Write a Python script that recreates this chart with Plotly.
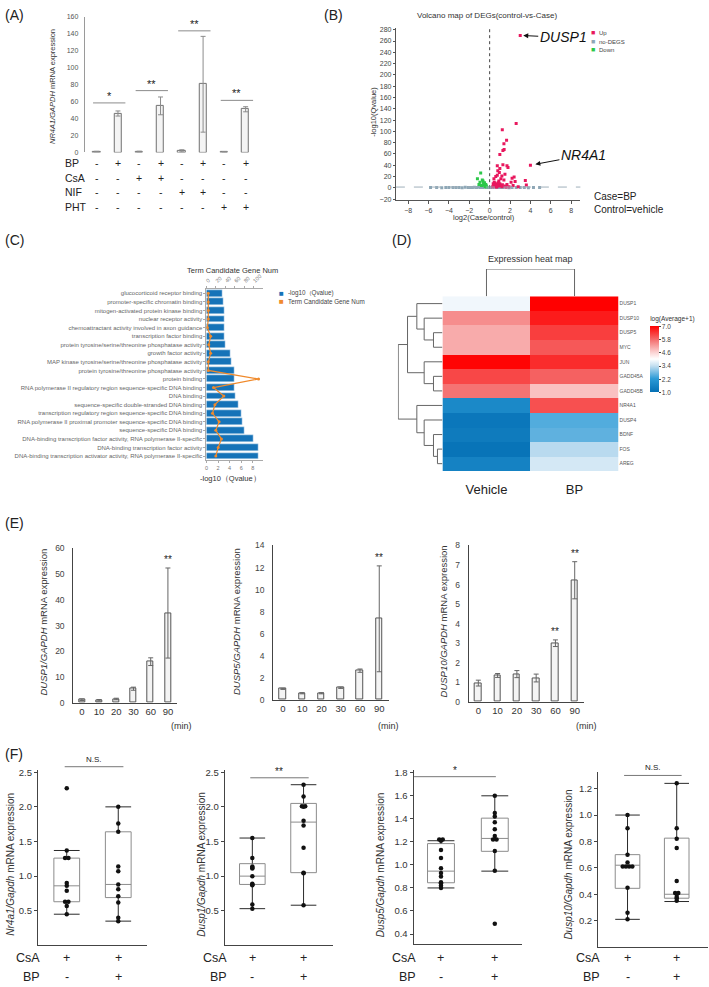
import plotly.graph_objects as go

W, H = 709, 987
FONT = "Arial, Liberation Sans, Helvetica, sans-serif"

# ---------------- (A) NR4A1 bars ----------------
A_MEAN = [1.0, 46.0, 1.0, 55.0, 2.0, 80.5, 0.8, 51.0]
A_ERR = [0.4, 3.0, 0.5, 10.5, 1.2, 56.5, 0.3, 3.0]
A_PAIRS = [(1, 2), (3, 4), (5, 6), (7, 8)]
A_SIG_Y = [58.5, 73.0, 143.5, 61.5]
A_SIG = ["*", "**", "**", "**"]
A_ROWS = ["BP", "CsA", "NIF", "PHT"]
A_SIGNS = [
    ["-", "+", "-", "+", "-", "+", "-", "+"],
    ["-", "-", "+", "+", "-", "-", "-", "-"],
    ["-", "-", "-", "-", "+", "+", "-", "-"],
    ["-", "-", "-", "-", "-", "-", "+", "+"],
]

# ---------------- (B) volcano ----------------
UP_X = [3.0, 2.6, 1.24, 1.66, 1.4, 1.42, 1.3, 1.0, 1.3, 1.7,
        1.8, 0.75, 1.0, 0.95, 0.75, 1.2, 1.4, 2.2, 2.4, 2.5,
        3.5, 3.6, 2.1, 1.7, 0.42, 0.6, 0.5, 4.0, 0.3, 0.4,
        0.5, 0.6, 0.7, 0.8, 0.9, 1.0, 1.1, 0.55, 0.65, 0.85,
        1.2, 1.5, 1.9, 2.3, 2.8, 0.35, 0.45, 0.9, 1.1, 0.8,
        1.5, 0.7, 1.25, 1.6]
UP_Y = [270, 114, 103, 84, 78, 68, 66, 59, 41, 39,
        36, 39, 34, 27, 22, 21, 14, 17, 19, 11,
        13, 5, 10, 6, 16, 20, 5, 40, 2, 4,
        3, 6, 2, 5, 3, 7, 4, 8, 1.5, 9,
        2, 3, 2, 4, 1.8, 7, 10, 12, 16, 30,
        24, 3.5, 5.5, 1.6]
DOWN_X = [-0.88, -1.2, -0.72, -0.95, -0.6, -0.55, -0.45, -0.39, -0.3, -0.5,
          -0.65, -0.8, -1.05, -0.42, -0.35]
DOWN_Y = [26, 16, 14, 10, 8, 5, 3, 6, 2, 9, 12, 4, 6, 1.8, 4.5]
NODEG_X = [-5.8, -5.2, -4.7, -4.3, -4.0, -3.6, -3.3, -3.0, -2.7, -2.4,
           -2.1, -1.9, -1.7, -1.5, -1.3, -1.1, -0.9, -0.7, -0.5, -0.3,
           -0.1, 0.1, 0.3, 0.5, 0.7, 0.9, 1.1, 1.3, 1.6, 1.9,
           2.2, 2.6, 3.0, 3.4, 3.8, 4.3, 4.9]
NODEG_Y = [0.3, 0.5, 0.2, 0.6, 0.4, 0.3, 0.7, 0.5, 0.2, 0.8,
           0.4, 0.6, 0.3, 0.9, 0.5, 1.0, 0.7, 0.4, 1.1, 0.8,
           0.6, 0.5, 0.9, 1.0, 0.4, 0.7, 0.3, 0.6, 0.8, 0.2,
           0.5, 0.4, 0.3, 0.6, 0.2, 0.4, 0.3]
Q_CUTOFF = 1.3

# ---------------- (C) GO terms ----------------
GO_TERMS = [
    "glucocorticoid receptor binding",
    "promoter-specific chromatin binding",
    "mitogen-activated protein kinase binding",
    "nuclear receptor activity",
    "chemoattractant activity involved in axon guidance",
    "transcription factor binding",
    "protein tyrosine/serine/threonine phosphatase activity",
    "growth factor activity",
    "MAP kinase tyrosine/serine/threonine phosphatase activity",
    "protein tyrosine/threonine phosphatase activity",
    "protein binding",
    "RNA polymerase II regulatory region sequence-specific DNA binding",
    "DNA binding",
    "sequence-specific double-stranded DNA binding",
    "transcription regulatory region sequence-specific DNA binding",
    "RNA polymerase II proximal promoter sequence-specific DNA binding",
    "sequence-specific DNA binding",
    "DNA-binding transcription factor activity, RNA polymerase II-specific",
    "DNA-binding transcription factor activity",
    "DNA-binding transcription activator activity, RNA polymerase II-specific",
]
GO_QVAL = [2.7, 2.9, 3.05, 3.05, 3.1, 3.1, 3.3, 4.2, 4.3, 4.8,
           4.8, 4.85, 5.05, 5.5, 6.0, 6.25, 6.55, 8.15, 9.0, 9.05]
GO_GENES = [4, 4, 4, 4, 2, 9, 5, 9, 4, 4,
            111, 15, 37, 18, 13, 27, 20, 32, 25, 20]

# ---------------- (D) heat map ----------------
GENES = ["DUSP1", "DUSP10", "DUSP5", "MYC", "JUN", "GADD45A", "GADD45B",
         "NR4A1", "DUSP4", "BDNF", "FOS", "AREG"]
HEAT_VEHICLE = [3.85, 5.4, 5.05, 5.05, 6.95, 6.2, 5.7, 1.7, 1.2, 1.3, 1.1, 1.5]
HEAT_BP = [7.0, 6.7, 6.3, 6.0, 6.5, 5.9, 4.8, 6.1, 2.5, 2.6, 3.3, 3.55]
HEAT_GROUPS = ["Vehicle", "BP"]
# (left, right, height) merges, new node ids start after the leaves
ROW_MERGES = [(2, 3, 27), (1, 12, 55), (0, 13, 77), (5, 6, 27), (4, 15, 55),
              (14, 16, 105), (10, 11, 15), (9, 18, 27), (8, 19, 55),
              (7, 20, 77), (17, 21, 133)]
COL_MERGES = [(0, 1, 1.0)]
CB_TICKS = [1.0, 2.2, 3.4, 4.6, 5.8, 7.0]

# ---------------- (E) time course ----------------
E_TIMES = ["0", "10", "20", "30", "60", "90"]
DUSP1_MEAN = [1.2, 1.0, 1.5, 5.5, 16.0, 34.9]
DUSP1_ERR = [0.3, 0.3, 0.3, 0.6, 1.5, 17.5]
DUSP5_MEAN = [1.0, 0.6, 0.6, 1.1, 2.65, 7.35]
DUSP5_ERR = [0.05, 0.05, 0.05, 0.06, 0.15, 4.8]
DUSP10_MEAN = [0.96, 1.35, 1.42, 1.22, 3.0, 6.22]
DUSP10_ERR = [0.15, 0.1, 0.18, 0.2, 0.17, 0.95]
E_SIG_IDX = [[5], [5], [4, 5]]

# ---------------- (F) CsA boxes ----------------
F_GENES = ["Nr4a1", "Dusp1", "Dusp5", "Dusp10"]
NR4A1_CSA = [2.27, 1.37, 1.26, 1.26, 0.90, 0.86, 0.79, 0.63, 0.63, 0.57, 0.45]
NR4A1_CSA_BP = [2.0, 1.76, 1.64, 1.14, 1.07, 0.88, 0.81, 0.71, 0.62, 0.40, 0.35]
DUSP1_CSA = [1.55, 1.26, 1.14, 1.12, 1.11, 1.0, 0.89, 0.88, 0.87, 0.59, 0.53]
DUSP1_CSA_BP = [2.32, 2.15, 2.01, 2.01, 2.0, 1.80, 1.73, 1.41, 1.05, 1.04, 0.58]
DUSP5_CSA = [1.22, 1.22, 1.21, 1.13, 1.06, 0.97, 0.93, 0.90, 0.85, 0.84, 0.82, 0.80]
DUSP5_CSA_BP = [1.60, 1.45, 1.42, 1.37, 1.31, 1.25, 1.22, 1.22, 1.12, 0.95, 0.49]
DUSP10_CSA = [1.0, 0.90, 0.70, 0.64, 0.61, 0.61, 0.61, 0.61, 0.45, 0.26, 0.21]
DUSP10_CSA_BP = [1.24, 0.90, 0.82, 0.75, 0.50, 0.41, 0.41, 0.40, 0.38, 0.37, 0.35]
# box stats per group: q1, median, q3, lower whisker, upper whisker
F_STATS = [
    [(0.63, 0.86, 1.26, 0.45, 1.37), (0.69, 0.88, 1.64, 0.35, 2.0)],
    [(0.88, 1.0, 1.18, 0.53, 1.55), (1.05, 1.78, 2.05, 0.58, 2.32)],
    [(0.845, 0.946, 1.185, 0.80, 1.21), (1.118, 1.23, 1.406, 0.946, 1.60)],
    [(0.445, 0.62, 0.70, 0.21, 1.0), (0.37, 0.40, 0.825, 0.345, 1.24)],
]
F_SIG = ["N.S.", "**", "*", "N.S."]
F_SIG_Y = [2.58, 2.42, 1.766, 1.30]
F_TICKS = [[0.5, 1.0, 1.5, 2.0, 2.5], [0.5, 1.0, 1.5, 2.0, 2.5],
           [0.4, 0.6, 0.8, 1.0, 1.2, 1.4, 1.6, 1.8], [0.2, 0.4, 0.6, 0.8, 1.0, 1.2]]
F_ROWS = ["CsA", "BP"]
F_SIGNS = [["+", "+"], ["-", "+"]]


def px(x):
    return x / W


def py(y):
    return 1 - y / H


def xdom(a, b):
    return [a / W, b / W]


def ydom(top, bottom):
    return [1 - bottom / H, 1 - top / H]


def axis(**kw):
    d = dict(showgrid=False, zeroline=False)
    d.update(kw)
    return d


def dendro(n_leaves, merges):
    pos = {i: float(i) for i in range(n_leaves)}
    hgt = {i: 0.0 for i in range(n_leaves)}
    hs, ps = [], []
    for k, (a, b, h) in enumerate(merges):
        hs += [hgt[a], h, h, hgt[b], None]
        ps += [pos[a], pos[a], pos[b], pos[b], None]
        pos[n_leaves + k] = (pos[a] + pos[b]) / 2
        hgt[n_leaves + k] = h
    return hs, ps


def spread(vals, center, step=0.065):
    counts = {v: vals.count(v) for v in vals}
    seen = {}
    xs = []
    for v in vals:
        k = seen.get(v, 0)
        seen[v] = k + 1
        xs.append(center + (k - (counts[v] - 1) / 2) * step)
    return xs


fig = go.Figure()
layout = {}
ann = []
shapes = []


def text(x, y, t, size, xref="paper", yref="paper", **kw):
    d = dict(x=x, y=y, xref=xref, yref=yref, text=t, showarrow=False,
             xanchor="center", yanchor="middle", borderpad=0,
             font=dict(size=size, color=kw.pop("color", "#222")))
    d.update(kw)
    ann.append(d)


# ---------- (A)
A_X = list(range(1, len(A_MEAN) + 1))
fig.add_trace(go.Bar(
    x=A_X, y=A_MEAN, width=0.34, xaxis="x", yaxis="y",
    marker=dict(color="#f4f4f4", line=dict(color="#707070", width=1)),
    error_y=dict(type="data", array=A_ERR, color="#8c8c8c", thickness=1, width=2.5),
))
layout["xaxis"] = axis(domain=xdom(83, 255), anchor="y", range=[0.44, 8.5],
                       showticklabels=False, ticks="")
layout["yaxis"] = axis(domain=ydom(12, 149), anchor="x", range=[0, 160], dtick=20,
                       showline=True, linecolor="#9a9a9a", ticks="",
                       tickfont=dict(size=7, color="#555"), ticklabelstandoff=4)
for (a, b), yv, s in zip(A_PAIRS, A_SIG_Y, A_SIG):
    shapes.append(dict(type="line", xref="x", yref="y", x0=a - 0.17, x1=b + 0.35,
                       y0=yv, y1=yv, line=dict(color="#8c8c8c", width=1)))
    text((a + b) / 2 + 0.08, yv, s, 11, xref="x", yref="y", yanchor="bottom")
A_ROW_Y = [160, 174.5, 189, 204]
for r, lab in enumerate(A_ROWS):
    text(px(62), py(A_ROW_Y[r]), lab, 10.5, xanchor="left")
    for c, s in enumerate(A_SIGNS[r]):
        text(A_X[c], py(A_ROW_Y[r]), s, 10.5, xref="x")
text(px(50), py(82), "<i>NR4A1/GAPDH</i> mRNA expression", 7.5, textangle=-90,
     color="#333")

# ---------- (B)
for xs, ys, col in [(NODEG_X, NODEG_Y, "#8ea7b6"), (UP_X, UP_Y, "#e8185e"),
                    (DOWN_X, DOWN_Y, "#2cc84a")]:
    fig.add_trace(go.Scatter(x=xs, y=ys, mode="markers", xaxis="x2", yaxis="y2",
                             marker=dict(size=3, color=col, symbol="square")))
layout["xaxis2"] = axis(domain=xdom(395, 580), anchor="y2", range=[-9.2, 8.9],
                        tickvals=list(range(-8, 9, 2)), showline=True, linecolor="#555",
                        ticks="outside", ticklen=3, tickcolor="#555",
                        tickfont=dict(size=7, color="#444"))
layout["yaxis2"] = axis(domain=ydom(23.3, 197.2), anchor="x2", range=[-22, 283],
                        tickvals=list(range(-20, 281, 20)), showline=True, linecolor="#555",
                        ticks="outside", ticklen=2, tickcolor="#555",
                        tickfont=dict(size=7, color="#444"))
shapes.append(dict(type="line", xref="x2", yref="y2 domain", x0=0, x1=0, y0=0, y1=1,
                   line=dict(color="#444", width=1, dash="dot")))
shapes.append(dict(type="line", xref="x2 domain", yref="y2", x0=0, x1=1,
                   y0=Q_CUTOFF, y1=Q_CUTOFF, line=dict(color="#9fb0bb", width=1, dash="dash")))
text(px(486), py(11), "Volcano map of DEGs(control-vs-Case)", 8, color="#333")
text(px(373), py(108), "-log10(Qvalue)", 7.5, textangle=-90, color="#333")
text(px(483), py(215), "log2(Case/control)", 7.5, color="#333")
ann.append(dict(x=UP_X[0], y=UP_Y[0], xref="x2", yref="y2", text="<i>DUSP1</i>",
                showarrow=True, arrowhead=2, arrowsize=1, arrowwidth=1, arrowcolor="#111",
                ax=43, ay=2, standoff=3, font=dict(size=14, color="#111")))
nr_idx = UP_X.index(4.0)
ann.append(dict(x=UP_X[nr_idx], y=UP_Y[nr_idx], xref="x2", yref="y2", text="<i>NR4A1</i>",
                showarrow=True, arrowhead=2, arrowsize=1, arrowwidth=1, arrowcolor="#111",
                ax=53, ay=-10, standoff=5, font=dict(size=14, color="#111")))
for i, (lab, col) in enumerate([("Up", "#e8185e"), ("no-DEGS", "#8ea7b6"),
                                ("Down", "#2cc84a")]):
    text(px(590), py(28 + i * 8.5), "■", 7, xanchor="left", color=col)
    text(px(598), py(28.5 + i * 8.5), lab, 6, xanchor="left", color="#444")
text(px(593), py(193), "Case=BP", 10, xanchor="left")
text(px(593), py(207), "Control=vehicle", 10, xanchor="left")

# ---------- (C)
fig.add_trace(go.Bar(x=GO_QVAL, y=GO_TERMS, orientation="h", width=0.8,
                     marker=dict(color="#1573b8"), xaxis="x3", yaxis="y3"))
fig.add_trace(go.Scatter(x=GO_GENES, y=GO_TERMS, mode="lines+markers", xaxis="x4", yaxis="y3",
                         line=dict(color="#f08a2c", width=1.2),
                         marker=dict(size=3, color="#f08a2c")))
layout["xaxis3"] = axis(domain=xdom(205, 262), anchor="y3", range=[0, 9.8],
                        tickvals=[0, 2, 4, 6, 8], showline=True, linecolor="#aaa",
                        ticks="outside", ticklen=2, tickcolor="#aaa",
                        tickfont=dict(size=5.5, color="#777"))
layout["xaxis4"] = axis(overlaying="x3", anchor="y3", side="top", range=[0, 121],
                        tickvals=[0, 20, 40, 60, 80, 100], tickangle=-45, showline=True,
                        linecolor="#aaa", ticks="outside", ticklen=2, tickcolor="#aaa",
                        tickfont=dict(size=5.5, color="#777"))
layout["yaxis3"] = axis(domain=ydom(287, 460), anchor="x3", type="category",
                        range=[len(GO_TERMS) - 0.5, -0.5], showline=True, linecolor="#aaa",
                        ticks="outside", ticklen=2, tickcolor="#aaa",
                        tickfont=dict(size=6, color="#666"))
text(px(231), py(268), "Term Candidate Gene Num", 7.5, color="#333")
text(px(229), py(478), "-log10（Qvalue）", 7.5, color="#333")
text(px(277), py(291), "■", 8, xanchor="left", color="#1573b8")
text(px(286), py(291), "-log10（Qvalue)", 6.3, xanchor="left", color="#444")
text(px(277), py(299.5), "■", 8, xanchor="left", color="#f08a2c")
text(px(286), py(299.5), "Term Candidate Gene Num", 6.3, xanchor="left", color="#444")

# ---------- (D)
heat_z = [[v, b] for v, b in zip(HEAT_VEHICLE, HEAT_BP)]
fig.add_trace(go.Heatmap(
    z=heat_z, x=[0, 1], y=list(range(len(GENES))), zmin=1, zmax=7, xaxis="x5", yaxis="y5",
    colorscale=[[0, "#0570b5"], [0.2, "#2b9ad6"], [0.4, "#c6e0f1"], [0.5, "#ffffff"],
                [0.6, "#fbd2d2"], [0.8, "#f46a6a"], [1, "#ff0000"]],
    colorbar=dict(x=px(650), xanchor="left", xpad=0, ypad=0, y=py(351.5), yanchor="middle",
                  len=79, lenmode="pixels", thickness=9, thicknessmode="pixels",
                  outlinewidth=0, tickvals=CB_TICKS, ticktext=[f"{t:.1f}" for t in CB_TICKS],
                  ticks="outside", ticklen=2, tickfont=dict(size=6.5, color="#444"),
                  title=dict(text="log(Average+1)", side="top",
                             font=dict(size=6.5, color="#333"))),
))
rh, rp = dendro(len(GENES), ROW_MERGES)
fig.add_trace(go.Scatter(x=rh, y=rp, mode="lines", xaxis="x6", yaxis="y6",
                         line=dict(color="#666", width=1)))
ch, cp = dendro(len(HEAT_GROUPS), COL_MERGES)
fig.add_trace(go.Scatter(x=cp, y=ch, mode="lines", xaxis="x7", yaxis="y7",
                         line=dict(color="#666", width=1)))
layout["xaxis5"] = axis(domain=xdom(441.7, 618.3), anchor="y5", range=[-0.5, 1.5],
                        tickvals=[0, 1], ticktext=HEAT_GROUPS, ticks="outside", ticklen=6,
                        tickcolor="rgba(0,0,0,0)", tickfont=dict(size=13, color="#222"))
layout["yaxis5"] = axis(domain=ydom(294.3, 470.7), anchor="x5", range=[len(GENES) - 0.5, -0.5],
                        side="right", tickvals=list(range(len(GENES))), ticktext=GENES,
                        ticks="", tickfont=dict(size=5, color="#555"))
layout["xaxis6"] = axis(domain=xdom(397, 441.7), anchor="y6", range=[134, 0], visible=False)
layout["yaxis6"] = axis(domain=ydom(294.3, 470.7), anchor="x6", range=[len(GENES) - 0.5, -0.5],
                        visible=False)
layout["xaxis7"] = axis(domain=xdom(441.7, 618.3), anchor="y7", range=[-0.5, 1.5], visible=False)
layout["yaxis7"] = axis(domain=ydom(266.7, 294.3), anchor="x7", range=[0, 1], visible=False)
text(px(530), py(257), "Expression heat map", 9, color="#333")

# ---------- (E)
E_SERIES = [("DUSP1", DUSP1_MEAN, DUSP1_ERR), ("DUSP5", DUSP5_MEAN, DUSP5_ERR),
            ("DUSP10", DUSP10_MEAN, DUSP10_ERR)]
E_XDOM = [(71.5, 175), (272, 388), (468, 584)]
E_YDOM = [(549, 705), (546, 702), (546, 704)]
E_YMAX = [60, 14, 8]
E_DTICK = [10, 2, 1]
E_TITLE_X = [42, 235, 443]
E_MIN_X = [180, 388, 586]
for i, (gene, mean, err) in enumerate(E_SERIES):
    xa, ya = f"x{8 + i}", f"y{8 + i}"
    fig.add_trace(go.Bar(
        x=E_TIMES, y=mean, width=0.34, xaxis=xa, yaxis=ya,
        marker=dict(color="#f4f4f4", line=dict(color="#555", width=1)),
        error_y=dict(type="data", array=err, color="#666", thickness=1, width=2.5),
    ))
    layout[f"xaxis{8 + i}"] = axis(domain=xdom(*E_XDOM[i]), anchor=ya, range=[-0.5, 5.5],
                                   showline=True, linecolor="#444", ticks="",
                                   tickfont=dict(size=9.5, color="#333"))
    layout[f"yaxis{8 + i}"] = axis(domain=ydom(*E_YDOM[i]), anchor=xa, range=[0, E_YMAX[i]],
                                   dtick=E_DTICK[i], showline=True, linecolor="#444",
                                   ticks="", ticklabelstandoff=6,
                                   tickfont=dict(size=8.5, color="#444"))
    for k in E_SIG_IDX[i]:
        text(k, mean[k] + err[k], "**", 10, xref=xa, yref=ya,
             yanchor="bottom", yshift=2)
    text(px(E_TITLE_X[i]), py(623), f"<i>{gene}/GAPDH</i> mRNA expression", 9.5,
         textangle=-90, color="#333")
    text(px(E_MIN_X[i]), py(728), "(min)", 9, color="#333")

# ---------- (F)
F_DATA = [(NR4A1_CSA, NR4A1_CSA_BP), (DUSP1_CSA, DUSP1_CSA_BP),
          (DUSP5_CSA, DUSP5_CSA_BP), (DUSP10_CSA, DUSP10_CSA_BP)]
F_XDOM = [(36, 145), (223.3, 331.7), (412.7, 521.7), (597.7, 707.7)]
F_YDOM = [(773, 950), (773, 950), (773.3, 949), (775, 951.7)]
F_XRANGE = [[-0.56, 1.55], [-0.54, 1.57], [-0.51, 1.51], [-0.6, 1.63]]
F_YRANGE = [[0, 2.53], [0, 2.53], [0.31, 1.82], [0, 1.325]]
F_SIG_X = [(-0.04, 1.1), (-0.04, 1.1), (-0.5, 1.02), (-0.07, 1.1)]
F_TITLE_X = [8.5, 200, 379, 568]
F_ROW_Y = [963, 981.5]
for i, (ctrl, bp) in enumerate(F_DATA):
    xa, ya = f"x{11 + i}", f"y{11 + i}"
    st = F_STATS[i]
    fig.add_trace(go.Box(
        x=[0, 1], q1=[s[0] for s in st], median=[s[1] for s in st], q3=[s[2] for s in st],
        lowerfence=[s[0] for s in st], upperfence=[s[2] for s in st], width=0.5,
        boxpoints=False, whiskerwidth=0, line=dict(color="#8c8c8c", width=1),
        fillcolor="rgba(0,0,0,0)", xaxis=xa, yaxis=ya,
    ))
    wx, wy = [], []
    for g, (q1, med, q3, lo, hi) in enumerate(st):
        wx += [g, g, None, g - 0.25, g + 0.25, None, g, g, None, g - 0.25, g + 0.25, None]
        wy += [q3, hi, None, hi, hi, None, q1, lo, None, lo, lo, None]
    fig.add_trace(go.Scatter(x=wx, y=wy, mode="lines", xaxis=xa, yaxis=ya,
                             line=dict(color="#2a2a2a", width=1)))
    fig.add_trace(go.Scatter(
        x=spread(ctrl, 0) + spread(bp, 1), y=ctrl + bp, mode="markers", xaxis=xa, yaxis=ya,
        marker=dict(size=4.5, color="#111"),
    ))
    layout[f"xaxis{11 + i}"] = axis(domain=xdom(*F_XDOM[i]), anchor=ya, range=F_XRANGE[i],
                                    showline=True, linecolor="#444", showticklabels=False,
                                    ticks="")
    layout[f"yaxis{11 + i}"] = axis(domain=ydom(*F_YDOM[i]), anchor=xa, range=F_YRANGE[i],
                                    tickvals=F_TICKS[i],
                                    ticktext=[f"{t:.1f}" for t in F_TICKS[i]],
                                    showline=True, linecolor="#444", ticks="outside",
                                    ticklen=3, tickcolor="#444",
                                    tickfont=dict(size=9.5, color="#333"))
    r0, r1 = F_YRANGE[i]
    frac = (F_SIG_Y[i] - r0) / (r1 - r0)
    x0, x1 = F_SIG_X[i]
    shapes.append(dict(type="line", xref=xa, yref=f"{ya} domain", x0=x0, x1=x1,
                       y0=frac, y1=frac, line=dict(color="#777", width=1)))
    sig_size = 8 if F_SIG[i] == "N.S." else 10
    text((x0 + x1) / 2, frac, F_SIG[i], sig_size, xref=xa, yref=f"{ya} domain",
         yanchor="bottom", yshift=2 if F_SIG[i] == "N.S." else 0)
    text(px(F_TITLE_X[i]), py(868), f"<i>{F_GENES[i]}/Gapdh</i> mRNA expression", 10,
         textangle=-90, color="#333")
    ax_left = F_XDOM[i][0]
    for r, lab in enumerate(F_ROWS):
        text(px(ax_left + 3), py(F_ROW_Y[r]), lab, 12.5, xanchor="right")
        for g in range(2):
            text(g, py(F_ROW_Y[r]), F_SIGNS[r][g], 12.5, xref=xa)

# ---------- panel letters
for lab, x, y in [("(A)", 2, 10), ("(B)", 322, 10), ("(C)", 2, 237), ("(D)", 390, 237),
                  ("(E)", 2, 523), ("(F)", 2, 757)]:
    text(px(x), py(y), lab, 14, xanchor="left", color="#222")

fig.update_layout(
    width=W, height=H, autosize=False, showlegend=False,
    margin=dict(l=0, r=0, t=0, b=0, pad=0),
    paper_bgcolor="white", plot_bgcolor="rgba(0,0,0,0)",
    font=dict(family=FONT, size=9, color="#222"),
    bargap=0, annotations=ann, shapes=shapes, **layout,
)

fig.write_html("out.html", config={"displayModeBar": False},
               post_script="document.body.style.margin='0';")
